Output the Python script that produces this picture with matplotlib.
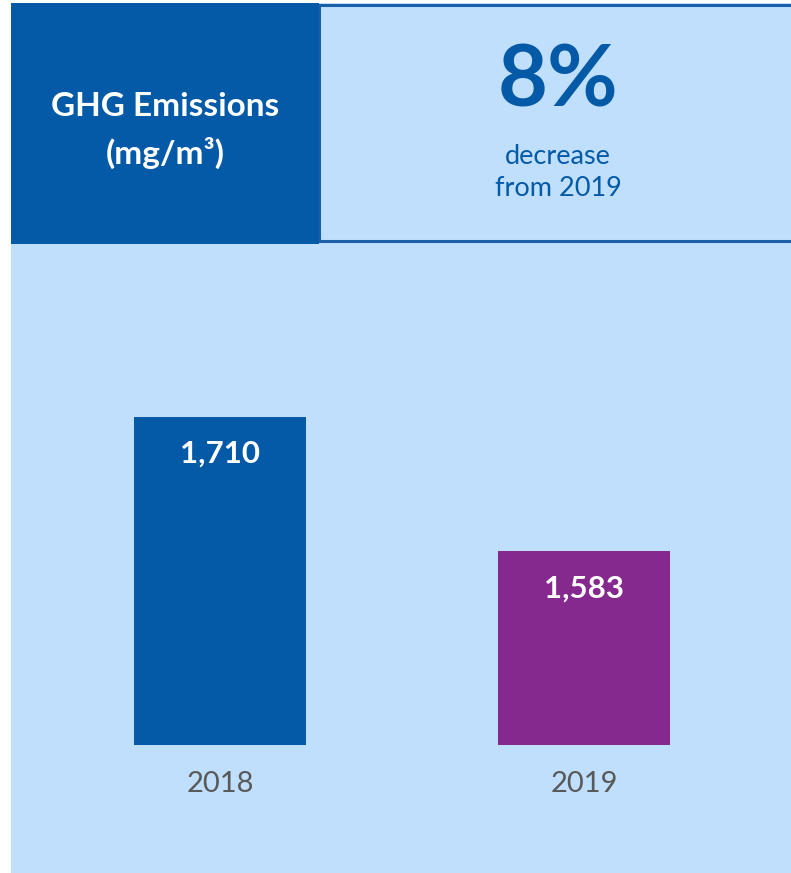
import matplotlib
matplotlib.use("Agg")
import matplotlib.pyplot as plt
from matplotlib.patches import Rectangle

# Data
years = ["2018", "2019"]
values = [1710, 1583]
bar_colors = ["#055aa8", "#86298f"]
title_lines = ["GHG Emissions", "(mg/m³)"]
change_pct = "8%"
change_text = ["decrease", "from 2019"]

W, H = 791, 873
DARK = "#055aa8"
LIGHT = "#bfdffc"

plt.rcParams['font.family'] = ['Lato', 'DejaVu Sans']

fig = plt.figure(figsize=(W / 100, H / 100), dpi=100)
fig.patch.set_facecolor("white")

def px(x, y):
    return x / W, 1 - y / H

def rect(x0, y0, x1, y1, **kw):
    fx, fy = px(x0, y1)
    r = Rectangle((fx, fy), (x1 - x0) / W, (y1 - y0) / H, transform=fig.transFigure, **kw)
    fig.add_artist(r)

# background
rect(11, 3, W + 5, H + 5, facecolor=LIGHT, edgecolor="none", zorder=0)
# right header box border
rect(319, 5, W + 10, 241, facecolor=LIGHT, edgecolor="#1a5fa8", linewidth=2.2, zorder=1)
# left dark title box
rect(11, 3, 319, 244, facecolor=DARK, edgecolor="none", zorder=2)

# title text
fx, fy = px(165, 107)
fig.text(fx, fy, title_lines[0], color="white", fontsize=24, fontweight="bold",
         ha="center", va="center", zorder=3)
fx, fy = px(165, 153)
fig.text(fx, fy, title_lines[1], color="white", fontsize=24, fontweight="bold",
         ha="center", va="center", zorder=3)

# change text
fx, fy = px(558, 82)
fig.text(fx, fy, change_pct, color=DARK, fontsize=62, fontweight="bold",
         ha="center", va="center", zorder=3)
fx, fy = px(558, 156)
fig.text(fx, fy, change_text[0], color=DARK, fontsize=19.5, ha="center", va="center", zorder=3)
fx, fy = px(558, 188)
fig.text(fx, fy, change_text[1], color=DARK, fontsize=19.5, ha="center", va="center", zorder=3)

# bar chart axes
ax_bottom_px = 745
ax_top_px = 248
ax = fig.add_axes([11 / W, 1 - ax_bottom_px / H, 780 / W, (ax_bottom_px - ax_top_px) / H])
ax.set_facecolor("none")
ax.set_zorder(4)
x = list(range(len(years)))
bars = ax.bar(x, values, width=0.4725, color=bar_colors, zorder=3)
ax.set_ylim(1400, 1870)
ax.set_xlim(-0.574, 1.569)
for s in ax.spines.values():
    s.set_visible(False)
ax.set_yticks([])
ax.set_xticks(x)
ax.set_xticklabels(years, fontsize=21, color="#595959")
ax.tick_params(axis="x", length=0, pad=19)

for xi, v in zip(x, values):
    ax.annotate(f"{v:,}", (xi, v), xytext=(0, -26.5), textcoords="offset points",
                ha="center", va="center", color="white", fontsize=22.5, fontweight="bold")

fig.savefig("out.png", dpi=100)
